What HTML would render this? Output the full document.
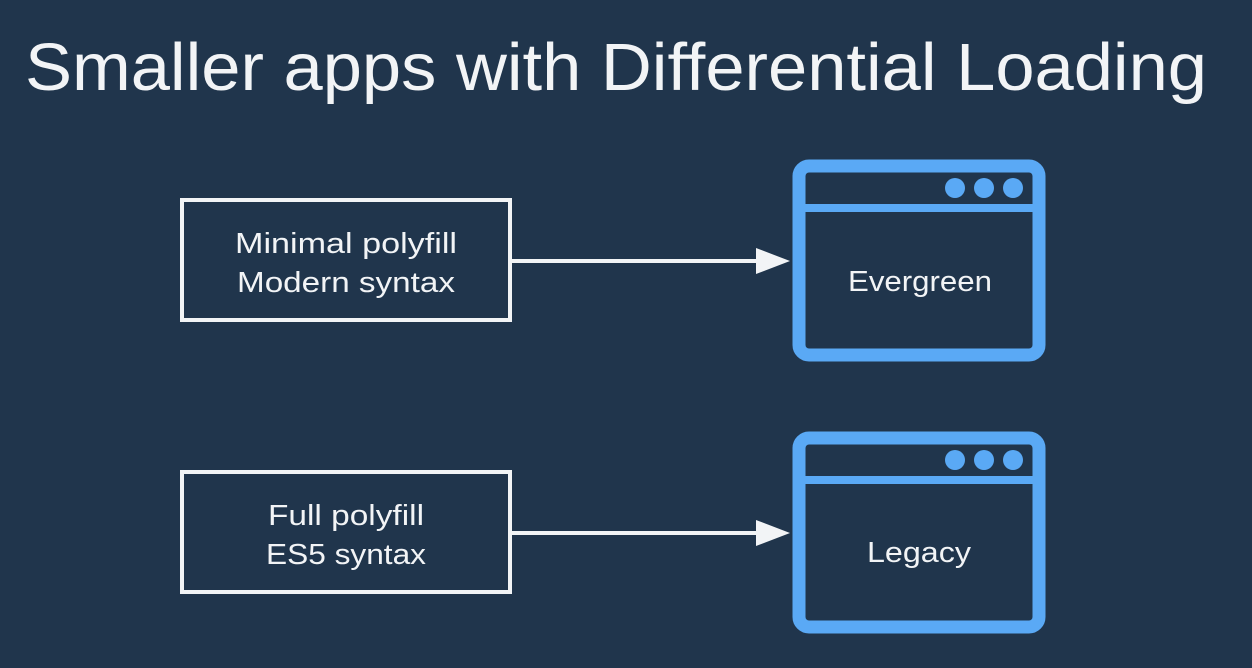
<!DOCTYPE html>
<html><head><meta charset="utf-8"><style>
html,body{margin:0;padding:0;background:#20354c;}
svg{display:block}
text{font-family:"Liberation Sans",sans-serif;fill:#f2f4f6}
</style></head><body>
<svg width="1252" height="668" viewBox="0 0 1252 668" xmlns="http://www.w3.org/2000/svg">
<rect width="1252" height="668" fill="#20354c"/>
<text x="25" y="90" font-size="67" textLength="1182" lengthAdjust="spacingAndGlyphs">Smaller apps with Differential Loading</text>

<!-- row 1 -->
<rect x="182" y="200" width="328" height="120" fill="none" stroke="#f2f4f6" stroke-width="4"/>
<text x="346" y="253" font-size="29" text-anchor="middle" textLength="222" lengthAdjust="spacingAndGlyphs">Minimal polyfill</text>
<text x="346" y="292" font-size="29" text-anchor="middle" textLength="218" lengthAdjust="spacingAndGlyphs">Modern syntax</text>
<line x1="512" y1="261" x2="762" y2="261" stroke="#f2f4f6" stroke-width="4"/>
<polygon points="756,248 790,261 756,274" fill="#f2f4f6"/>
<rect x="799" y="166" width="240" height="189" rx="10" fill="none" stroke="#5aa9f5" stroke-width="13"/>
<line x1="799" y1="208" x2="1039" y2="208" stroke="#5aa9f5" stroke-width="8"/>
<circle cx="955" cy="188" r="10" fill="#5aa9f5"/>
<circle cx="984" cy="188" r="10" fill="#5aa9f5"/>
<circle cx="1013" cy="188" r="10" fill="#5aa9f5"/>
<text x="920" y="291" font-size="29" text-anchor="middle" textLength="144" lengthAdjust="spacingAndGlyphs">Evergreen</text>

<!-- row 2 -->
<rect x="182" y="472" width="328" height="120" fill="none" stroke="#f2f4f6" stroke-width="4"/>
<text x="346" y="525" font-size="29" text-anchor="middle" textLength="156" lengthAdjust="spacingAndGlyphs">Full polyfill</text>
<text x="346" y="564" font-size="29" text-anchor="middle" textLength="160" lengthAdjust="spacingAndGlyphs">ES5 syntax</text>
<line x1="512" y1="533" x2="762" y2="533" stroke="#f2f4f6" stroke-width="4"/>
<polygon points="756,520 790,533 756,546" fill="#f2f4f6"/>
<rect x="799" y="438" width="240" height="189" rx="10" fill="none" stroke="#5aa9f5" stroke-width="13"/>
<line x1="799" y1="480" x2="1039" y2="480" stroke="#5aa9f5" stroke-width="8"/>
<circle cx="955" cy="460" r="10" fill="#5aa9f5"/>
<circle cx="984" cy="460" r="10" fill="#5aa9f5"/>
<circle cx="1013" cy="460" r="10" fill="#5aa9f5"/>
<text x="919" y="562" font-size="29" text-anchor="middle" textLength="104" lengthAdjust="spacingAndGlyphs">Legacy</text>
</svg>
</body></html>
